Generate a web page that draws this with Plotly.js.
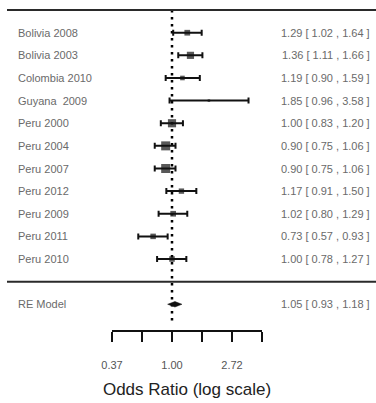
<!DOCTYPE html>
<html>
<head>
<meta charset="utf-8">
<script src="https://cdn.plot.ly/plotly-3.0.1.min.js"></script>
<style>html,body{margin:0;padding:0;background:#fff;}#chart{width:376px;height:403px;}</style>
</head>
<body>
<div id="chart"></div>
<script>
// ---- data ----
const studies = ['Bolivia 2008', 'Bolivia 2003', 'Colombia 2010', 'Guyana  2009', 'Peru 2000', 'Peru 2004', 'Peru 2007', 'Peru 2012', 'Peru 2009', 'Peru 2011', 'Peru 2010'];
const orEst  = [1.29, 1.36, 1.19, 1.85, 1.00, 0.90, 0.90, 1.17, 1.02, 0.73, 1.00];
const ciLow  = [1.02, 1.11, 0.90, 0.96, 0.83, 0.75, 0.75, 0.91, 0.80, 0.57, 0.78];
const ciHigh = [1.64, 1.66, 1.59, 3.58, 1.20, 1.06, 1.06, 1.50, 1.29, 0.93, 1.27];
const reLabel = 'RE Model';
const reEst = 1.05, reLow = 0.93, reHigh = 1.18;
const tickVals = [Math.exp(-1), Math.exp(-0.5), 1, Math.exp(0.5), Math.exp(1), Math.exp(1.5)];
const tickText = ['0.37', '', '1.00', '', '2.72', ''];
const xTitle = 'Odds Ratio (log scale)';

// ---- layout helpers ----
const W = 376, H = 403;
const k = studies.length;
const rows = studies.map((s, i) => k - i);
const reRow = -1;
const fmt = v => v.toFixed(2);
const ciText = (e, l, u) => fmt(e) + ' [ ' + fmt(l) + ' , ' + fmt(u) + ' ]';

// marker size from inverse-variance weights
const vi = ciLow.map((l, i) => Math.pow((Math.log(ciHigh[i]) - Math.log(l)) / 3.92, 2));
const wi = vi.map(v => 1 / v);
const wMin = Math.min(...wi), wMax = Math.max(...wi);
const msize = wi.map(w => 2.5 + 6.5 * (w - wMin) / (wMax - wMin));

const L10 = Math.log10(Math.E);
const xRange = [-2.8667 * L10, 3.4 * L10];
const yRange = [-5.363, 12.446];

const black = '#111111';
const lblFont = {family: 'Liberation Sans, Arial, sans-serif', size: 11, color: '#6a6a6a'};

const traces = [
  {
    type: 'scatter', mode: 'markers', x: orEst, y: rows,
    marker: {symbol: 'square', size: msize, color: black, line: {width: 0}},
    error_x: {type: 'data', symmetric: false,
      array: ciHigh.map((u, i) => u - orEst[i]),
      arrayminus: ciLow.map((l, i) => orEst[i] - l),
      color: black, thickness: 2, width: 3},
    hoverinfo: 'skip', showlegend: false
  },
  {
    type: 'scatter', mode: 'lines',
    x: [reLow, reEst, reHigh, reEst, reLow],
    y: [reRow, reRow + 0.12, reRow, reRow - 0.12, reRow],
    fill: 'toself', fillcolor: black, line: {color: black, width: 0.5},
    hoverinfo: 'skip', showlegend: false
  },
  {
    type: 'scatter', mode: 'markers', x: [1], y: [reRow], xaxis: 'x2', yaxis: 'y',
    marker: {opacity: 0}, hoverinfo: 'skip', showlegend: false
  }
];

const annotations = [];
studies.forEach((s, i) => {
  annotations.push({xref: 'paper', yref: 'y', x: 16 / W, y: rows[i], text: s, showarrow: false, xanchor: 'left', yanchor: 'middle', font: lblFont});
  annotations.push({xref: 'paper', yref: 'y', x: 372 / W, y: rows[i], text: ciText(orEst[i], ciLow[i], ciHigh[i]), showarrow: false, xanchor: 'right', yanchor: 'middle', font: lblFont});
});
annotations.push({xref: 'paper', yref: 'y', x: 16 / W, y: reRow, text: reLabel, showarrow: false, xanchor: 'left', yanchor: 'middle', font: lblFont});
annotations.push({xref: 'paper', yref: 'y', x: 372 / W, y: reRow, text: ciText(reEst, reLow, reHigh), showarrow: false, xanchor: 'right', yanchor: 'middle', font: lblFont});

const shapes = [
  {type: 'line', xref: 'paper', yref: 'y', x0: 7 / W, x1: 1, y0: k + 1, y1: k + 1, line: {color: '#2a2a2a', width: 2}},
  {type: 'line', xref: 'paper', yref: 'y', x0: 7 / W, x1: 1, y0: 0, y1: 0, line: {color: '#2a2a2a', width: 2}},
  {type: 'line', xref: 'x', yref: 'y', x0: 1, x1: 1, y0: k + 1, y1: -1.8, layer: 'below', line: {color: '#000', width: 2.5, dash: '2.5px,4.5px'}}
];

const layout = {
  width: W, height: H, autosize: false,
  margin: {l: 0, r: 0, t: 0, b: 0, pad: 0},
  paper_bgcolor: '#fff', plot_bgcolor: 'rgba(0,0,0,0)',
  showlegend: false,
  xaxis: {type: 'log', range: xRange, visible: false, fixedrange: true},
  yaxis: {range: yRange, visible: false, fixedrange: true},
  xaxis2: {
    type: 'log', domain: [112 / W, 262 / W], range: [Math.log10(tickVals[0]), Math.log10(tickVals[5])],
    anchor: 'free', position: (H - 331) / H, side: 'bottom',
    showline: true, linecolor: black, linewidth: 2,
    ticks: 'outside', ticklen: 10, tickwidth: 2, tickcolor: black,
    tickmode: 'array', tickvals: tickVals, ticktext: tickText,
    tickfont: {family: 'Liberation Sans, Arial, sans-serif', size: 11, color: '#555'},
    ticklabelstandoff: 14,
    showgrid: false, zeroline: false, fixedrange: true,
    title: {text: xTitle, font: {family: 'Liberation Sans, Arial, sans-serif', size: 17, color: '#222'}, standoff: 12}
  },
  annotations: annotations,
  shapes: shapes
};

Plotly.newPlot('chart', traces, layout, {displayModeBar: false, staticPlot: true});
</script>
</body>
</html>
